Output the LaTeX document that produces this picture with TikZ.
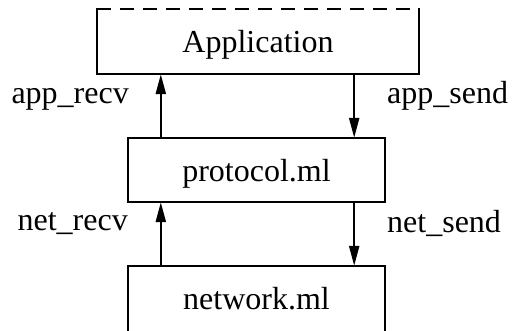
\documentclass[tikz,border=0pt]{standalone}
\usepackage{fontspec}
\setmainfont{Liberation Serif}
\usetikzlibrary{arrows.meta}
\begin{document}
\begin{tikzpicture}[x=1pt,y=-1pt,
  boxline/.style={line width=2.3pt,line cap=rect},
  boxarea/.style={inner sep=0pt},
  boxtext/.style={inner sep=0pt,font=\fontsize{32}{38}\selectfont},
  lbl/.style={inner sep=0pt,font=\fontsize{32}{38}\selectfont},
  arr/.style={line width=2.3pt,-{Triangle[length=20pt,width=10pt]}}]
\useasboundingbox (0,0) rectangle (512,331);
% box areas
\node[boxarea,minimum width=322pt,minimum height=65pt] (app) at (258,41.5) {};
\node[boxarea,minimum width=257pt,minimum height=64pt] (prot) at (256.5,170) {};
\node[boxarea,minimum width=257pt,minimum height=65pt] (net) at (256.5,298.5) {};
% box texts
\node[boxtext] (appt) at (258,45) {Application};
\node[boxtext] (prott) at (256.5,174) {protocol.ml};
\node[boxtext] (nett) at (256.5,299) {network.ml};
% Application box: dashed top, solid sides and bottom
\draw[boxline] (app.north west) -- (app.south west) -- (app.south east) -- (app.north east);
\draw[line width=2.3pt,dash pattern=on 14pt off 9pt] (app.north west) -- (app.north east);
% protocol box
\draw[boxline] (prot.north west) rectangle (prot.south east);
% network box, open at the bottom
\draw[boxline] (net.south west) -- (net.north west) -- (net.north east) -- (net.south east);
% connectors
\coordinate (pl) at ([xshift=33pt]prot.north west);
\coordinate (pr) at ([xshift=-31pt]prot.north east);
\coordinate (ql) at ([xshift=33pt]prot.south west);
\coordinate (qr) at ([xshift=-31pt]prot.south east);
\draw[arr] (pl) -- (pl |- app.south);
\draw[arr] (pr |- app.south) -- (pr);
\draw[arr] (ql |- net.north) -- (ql);
\draw[arr] (qr) -- (qr |- net.north);
% labels
\node[lbl,anchor=base east] (lar) at (129,104) {app\_recv};
\node[lbl,anchor=base west] (las) at (387,104) {app\_send};
\node[lbl,anchor=base east] (lnr) at (128,231) {net\_recv};
\node[lbl,anchor=base west] (lns) at (387,233) {net\_send};
\end{tikzpicture}
\end{document}
